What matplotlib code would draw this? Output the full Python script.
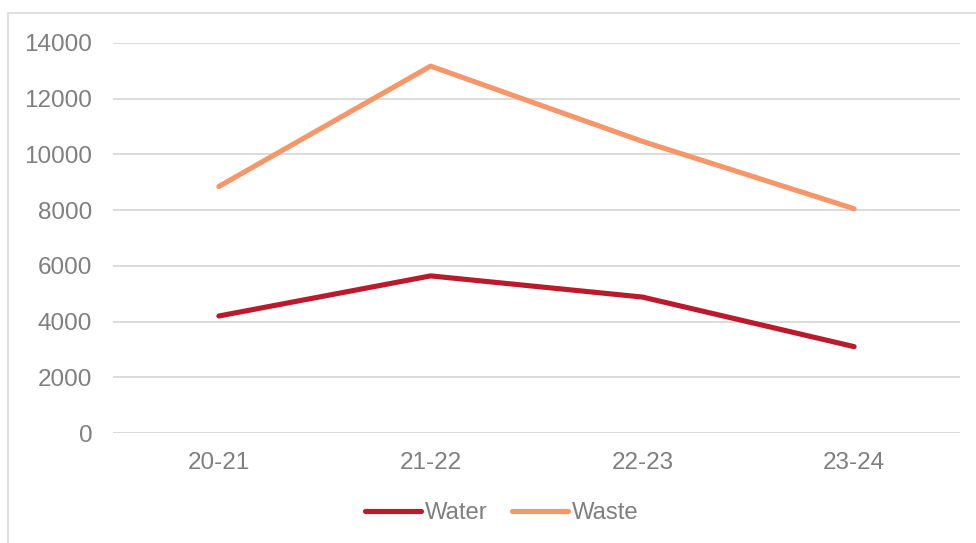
import matplotlib
matplotlib.use("Agg")
import matplotlib.pyplot as plt
from matplotlib.patches import Rectangle

categories = ["20-21", "21-22", "22-23", "23-24"]
water = [4200, 5640, 4880, 3100]
waste = [8850, 13170, 10470, 8050]
yticks = [0, 2000, 4000, 6000, 8000, 10000, 12000, 14000]

plt.rcParams['font.family'] = ['Liberation Sans', 'DejaVu Sans']
text_color = "#7f7f7f"
grid_color = "#d9d9d9"

fig = plt.figure(figsize=(9.76, 5.43), dpi=100)
ax = fig.add_axes([113/976, 1-433/543, (960-113)/976, (433-43)/543])

x = list(range(len(categories)))
ax.plot(x, water, color="#BB1A2D", lw=3.7, solid_capstyle='round', solid_joinstyle='round', label="Water")
ax.plot(x, waste, color="#F59769", lw=3.7, solid_capstyle='round', solid_joinstyle='round', label="Waste")

ax.set_xlim(-0.5, len(categories) - 0.5)
ax.set_ylim(0, 14000)
ax.set_yticks(yticks)
ax.set_yticklabels([str(v) for v in yticks])
ax.set_xticks(x)
ax.set_xticklabels(categories)
ax.yaxis.grid(True, color=grid_color, lw=1.3)
ax.set_axisbelow(True)
for s in ax.spines.values():
    s.set_visible(False)
ax.tick_params(axis='both', length=0, labelsize=17.5, labelcolor=text_color)
ax.tick_params(axis='y', pad=15)
ax.tick_params(axis='x', pad=14)

leg = fig.legend(loc='center', bbox_to_anchor=(0.514, 1-513/543), ncol=2, frameon=False,
                 fontsize=17.2, handlelength=2.35, handletextpad=0.15, columnspacing=1.05,
                 labelcolor=text_color)

fig.patches.append(Rectangle((8/976, -0.1), 1.2, 1-13/543+0.1, transform=fig.transFigure,
                             fill=False, edgecolor=grid_color, lw=1.2))

fig.savefig("out.png", dpi=100)
